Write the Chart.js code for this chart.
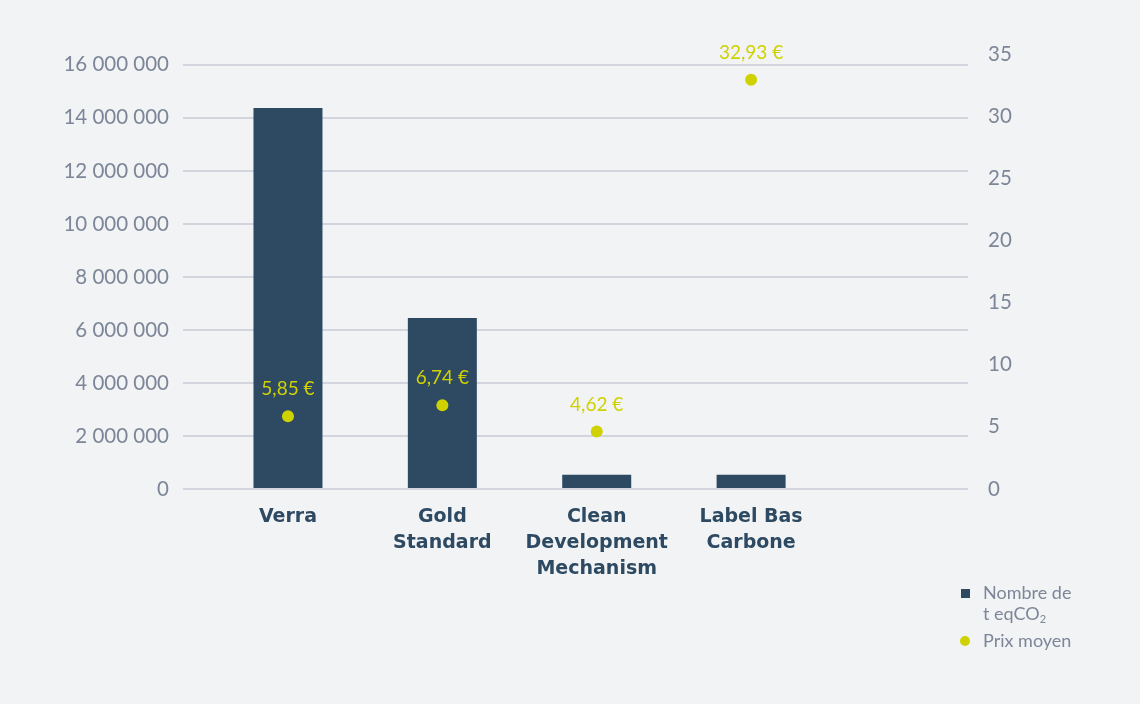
<!DOCTYPE html>
<html>
<head>
<meta charset="utf-8">
<script src="https://cdn.jsdelivr.net/npm/chart.js@4"></script>
<style>
  html, body { margin: 0; padding: 0; background: #f2f3f5; }
  #wrap { position: relative; width: 1140px; height: 704px; background: #f2f3f5; }
  canvas { display: block; }
  .legend { position: absolute; left: 960px; top: 582px; font-family: Lato, "Open Sans", sans-serif; font-size: 18px; color: #7d8698; line-height: 21px; }
  .item { position: relative; padding-left: 23px; margin-bottom: 6px; }
  .sq { position: absolute; left: 1px; top: 7px; width: 9px; height: 9px; background: #2d4a62; }
  .dot { position: absolute; left: 0px; top: 6px; width: 10px; height: 10px; border-radius: 50%; background: #cfd200; }
  sub { font-size: 11px; vertical-align: -3px; line-height: 0; }
</style>
</head>
<body>
<div id="wrap">
  <canvas id="c" width="1140" height="704"></canvas>
  <div class="legend">
    <div class="item"><span class="sq"></span>Nombre de<br>t eqCO<sub>2</sub></div>
    <div class="item"><span class="dot"></span>Prix moyen</div>
  </div>
</div>
<script>
const categories = ['Verra', 'Gold Standard', 'Clean Development Mechanism', 'Label Bas Carbone'];
const categoryLines = [['Verra'], ['Gold', 'Standard'], ['Clean', 'Development', 'Mechanism'], ['Label Bas', 'Carbone']];
const tonnes = [14370000, 6450000, 540000, 540000];
const prixMoyen = [5.85, 6.74, 4.62, 32.93];
const leftTicks = [0, 2000000, 4000000, 6000000, 8000000, 10000000, 12000000, 14000000, 16000000];
const rightTicks = [0, 5, 10, 15, 20, 25, 30, 35];

const BAR = '#2d4a62';
const YEL = '#cfd200';
const TICK = '#7d8698';
const GRID = '#d3d5de';

function fmtSpace(v) {
  return String(Math.round(v)).replace(/\B(?=(\d{3})+(?!\d))/g, ' ');
}
function fmtEuro(v) {
  return v.toFixed(2).replace('.', ',') + ' €';
}

const pointLabels = {
  id: 'pointLabels',
  afterDatasetsDraw(chart) {
    const ctx = chart.ctx;
    const meta = chart.getDatasetMeta(1);
    ctx.save();
    ctx.fillStyle = YEL;
    ctx.font = '19px Lato, "Open Sans", sans-serif';
    ctx.textAlign = 'center';
    ctx.textBaseline = 'middle';
    meta.data.forEach((pt, i) => {
      ctx.fillText(fmtEuro(prixMoyen[i]), pt.x, pt.y - 27);
    });
    ctx.restore();
  }
};

new Chart(document.getElementById('c'), {
  type: 'bar',
  data: {
    datasets: [
      {
        type: 'bar',
        label: 'Nombre de t eqCO2',
        data: tonnes.map((v, i) => ({ x: i, y: v })),
        backgroundColor: BAR,
        yAxisID: 'y',
        xAxisID: 'x',
        categoryPercentage: 1,
        barPercentage: 0.447,
        order: 1
      },
      {
        type: 'line',
        label: 'Prix moyen',
        data: prixMoyen.map((v, i) => ({ x: i, y: v })),
        showLine: false,
        pointRadius: 6,
        pointHoverRadius: 6,
        pointBackgroundColor: YEL,
        pointBorderWidth: 0,
        borderColor: YEL,
        yAxisID: 'y1',
        xAxisID: 'x',
        order: 0,
        clip: false
      }
    ]
  },
  options: {
    responsive: false,
    animation: false,
    devicePixelRatio: 1,
    layout: { padding: { top: 54, left: 0, right: 0, bottom: 0 } },
    plugins: { legend: { display: false }, tooltip: { enabled: false } },
    scales: {
      x: {
        type: 'linear',
        offset: false,
        min: -0.68,
        max: 4.405,
        grid: { display: false, drawTicks: false },
        border: { display: false },
        afterBuildTicks(scale) { scale.ticks = categories.map((_, i) => ({ value: i })); },
        afterFit(scale) { scale.height = 215; },
        ticks: {
          autoSkip: false,
          maxRotation: 0,
          padding: 15,
          color: BAR,
          font: { family: '"DejaVu Sans", sans-serif', size: 19, weight: 'bold', lineHeight: 1.37 },
          callback(v) { return categoryLines[v] || ''; }
        }
      },
      y: {
        position: 'left',
        min: 0,
        max: 16410000,
        afterBuildTicks(scale) { scale.ticks = leftTicks.map(v => ({ value: v })); },
        afterFit(scale) { scale.width = 183; },
        grid: { color: GRID, lineWidth: 2, drawTicks: false },
        border: { display: false },
        ticks: {
          padding: 14,
          color: TICK,
          font: { family: 'Lato, "Open Sans", sans-serif', size: 20.5 },
          callback(v) { return fmtSpace(v); }
        }
      },
      y1: {
        position: 'right',
        min: 0,
        max: 35,
        afterBuildTicks(scale) { scale.ticks = rightTicks.map(v => ({ value: v })); },
        afterFit(scale) { scale.width = 172; },
        grid: { display: false, drawTicks: false },
        border: { display: false },
        ticks: {
          padding: 20,
          color: TICK,
          font: { family: 'Lato, "Open Sans", sans-serif', size: 20.5 }
        }
      }
    }
  },
  plugins: [pointLabels]
});
</script>
</body>
</html>
